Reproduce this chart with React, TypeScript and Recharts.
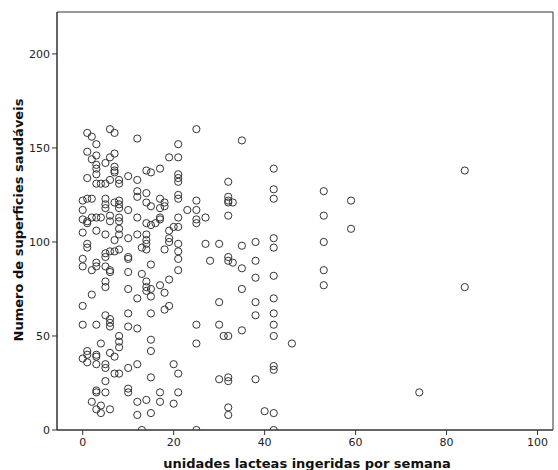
import React from "react";
import { ScatterChart, Scatter, XAxis, YAxis, ReferenceArea } from "recharts";

// units of dairy per week (one column of points per value)
const milkUnits = [
	0, 1, 2, 3, 4, 5, 6, 7, 8, 10, 12, 13, 14, 15, 16, 17, 18, 19, 20, 21, 23, 25,
	27, 28, 30, 31, 32, 33, 35, 38, 40, 42, 46, 53, 59, 74, 84,
];

// healthy surfaces counted for each respondent in the matching column
const healthySurfaces = [
	[122, 117, 112, 105, 91, 87, 66, 56, 38],
	[158, 148, 134, 123, 111, 110, 99, 97, 42, 40, 36],
	[156, 144, 123, 113, 85, 72, 15],
	[152, 146, 141, 139, 136, 131, 113, 106, 89, 87, 56, 40, 39, 35, 21, 20, 11],
	[131, 113, 46, 13, 9],
	[142, 131, 123, 120, 118, 104, 94, 92, 87, 79, 76, 61, 35, 33, 26, 20],
	[160, 145, 133, 114, 111, 95, 85, 84, 59, 57, 55, 41, 11],
	[158, 147, 140, 138, 137, 121, 101, 95, 39, 30],
	[133, 131, 122, 120, 118, 113, 111, 107, 104, 96, 50, 47, 44, 30],
	[135, 117, 102, 92, 91, 84, 75, 62, 55, 33, 22, 20],
	[155, 133, 127, 124, 113, 104, 70, 54, 35, 15, 8],
	[97, 83, 0],
	[138, 126, 121, 110, 104, 101, 99, 96, 79, 76, 74, 16],
	[137, 119, 109, 88, 75, 71, 62, 48, 42, 28, 9],
	[110],
	[139, 123, 118, 113, 112, 77, 20, 15],
	[121, 119, 96, 73, 64],
	[145, 106, 102, 100, 80, 66],
	[108, 35, 14],
	[152, 145, 136, 134, 132, 125, 123, 113, 108, 99, 95, 91, 85, 30, 20],
	[117],
	[160, 122, 117, 112, 110, 56, 46, 0],
	[113, 99],
	[90],
	[99, 68, 56, 27],
	[50],
	[132, 124, 122, 121, 114, 92, 90, 50, 28, 26, 12, 8],
	[121, 89],
	[154, 98, 86, 75, 53],
	[100, 90, 81, 68, 61, 27],
	[10],
	[139, 128, 123, 102, 97, 82, 70, 62, 56, 50, 34, 32, 9, 0],
	[46],
	[127, 114, 100, 85, 77],
	[122, 107],
	[20],
	[138, 76],
];

const xTicks = [0, 20, 40, 60, 80, 100];
const yTicks = [0, 50, 100, 150, 200];
const xDomain = [-5.65, 103.4];
const yDomain = [0, 222.3];

const points = milkUnits.flatMap((u, i) =>
	healthySurfaces[i].map((s) => ({ units: u, surfaces: s }))
);

const font = "'DejaVu Sans', sans-serif";
const axisColor = "#333";

const OpenDot = (props: any) => (
	<circle
		cx={props.cx}
		cy={props.cy}
		r={3.6}
		fill="none"
		stroke="#333"
		strokeWidth={1}
	/>
);

export default function App() {
	return (
		<div style={{ width: 558, height: 470, background: "#fff" }}>
			<style>{`body{margin:0}`}</style>
			<ScatterChart
				width={558}
				height={470}
				margin={{ top: 12, right: 5, bottom: 0, left: 0 }}
			>
				<XAxis
					type="number"
					dataKey="units"
					domain={xDomain}
					ticks={xTicks}
					allowDataOverflow
					height={40}
					tickSize={5}
					tickMargin={3}
					stroke={axisColor}
					tick={{ fill: "#222", fontSize: 11, fontFamily: font }}
					label={{
						content: () => (
							<text
								x={307}
								y={468}
								textAnchor="middle"
								fontFamily={font}
								fontWeight="bold"
								fontSize={13}
								fill="#111"
							>
								unidades lacteas ingeridas por semana
							</text>
						),
					}}
				/>
				<YAxis
					type="number"
					dataKey="surfaces"
					domain={yDomain}
					ticks={yTicks}
					allowDataOverflow
					width={57}
					tickSize={5}
					tickMargin={2}
					stroke={axisColor}
					tick={{ fill: "#222", fontSize: 11, fontFamily: font }}
					label={{
						content: () => (
							<text
								x={23}
								y={220}
								transform="rotate(-90 23 220)"
								textAnchor="middle"
								fontFamily={font}
								fontWeight="bold"
								fontSize={13}
								fill="#111"
							>
								Numero de superficies saudáveis
							</text>
						),
					}}
				/>
				{/* plot frame */}
				<ReferenceArea
					x1={xDomain[0]}
					x2={xDomain[1]}
					y1={yDomain[0]}
					y2={yDomain[1]}
					fill="none"
					stroke={axisColor}
					strokeWidth={1}
					ifOverflow="visible"
				/>
				<Scatter
					data={points}
					shape={OpenDot}
					isAnimationActive={false}
				/>
			</ScatterChart>
		</div>
	);
}
